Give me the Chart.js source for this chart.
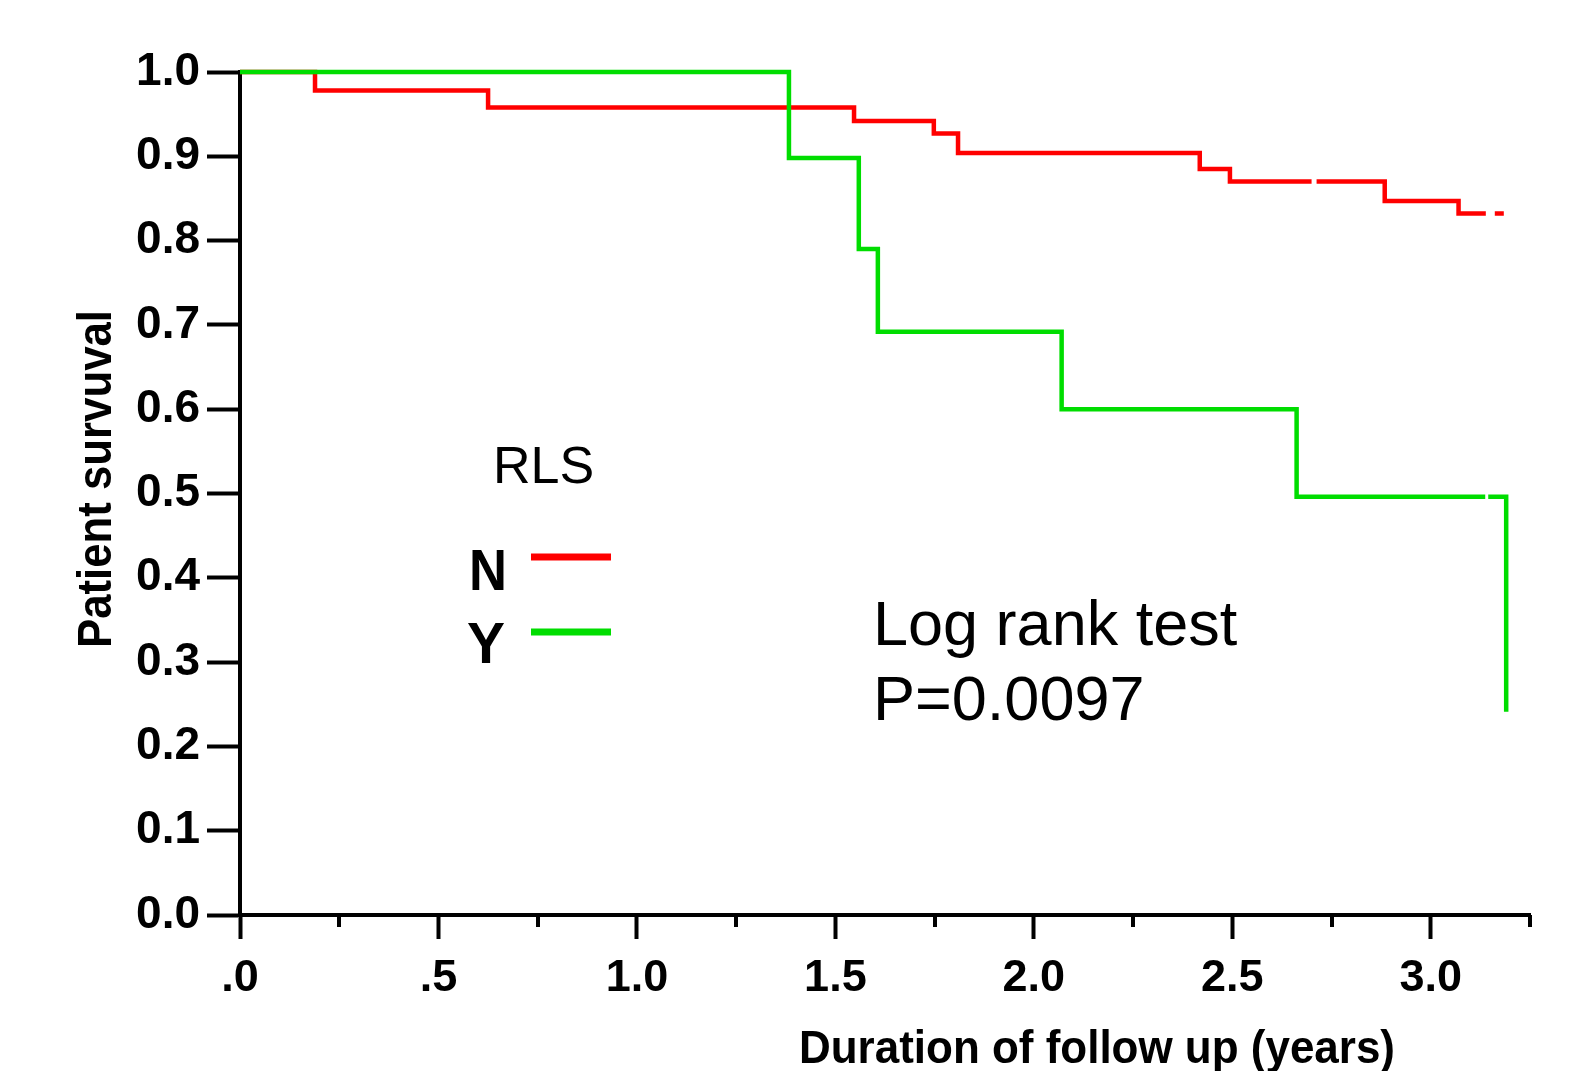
<!DOCTYPE html>
<html><head><meta charset="utf-8">
<script src="https://cdn.jsdelivr.net/npm/chart.js@4.4.1/dist/chart.umd.min.js"></script>
<style>html,body{margin:0;padding:0;background:#fff}#wrap{width:1573px;height:1071px;position:relative}</style>
</head><body><div id="wrap"><canvas id="c"></canvas></div>
<script>
// Kaplan-Meier step data (time in years, survival)
const timesN = [0, 0.189, 0.625, 1.547, 1.748, 1.809, 2.418, 2.494, 2.884, 3.070, 3.184];
const survN  = [1.0, 0.978, 0.958, 0.942, 0.927, 0.904, 0.885, 0.870, 0.847, 0.832, 0.832];
const timesY = [0, 1.383, 1.559, 1.607, 2.070, 2.662, 3.190];
const survY  = [1.0, 0.898, 0.790, 0.692, 0.600, 0.496, 0.241];
const censorN = [2.706, 3.145, 3.155];
const censorY = [3.141];
const seriesNames = ['N', 'Y'];
const xTickValues = [0, 0.5, 1.0, 1.5, 2.0, 2.5, 3.0];
const xTickLabels = ['.0', '.5', '1.0', '1.5', '2.0', '2.5', '3.0'];
const xMinorTicks = [0.25, 0.75, 1.25, 1.75, 2.25, 2.75, 3.25];
const yTickValues = [0, 0.1, 0.2, 0.3, 0.4, 0.5, 0.6, 0.7, 0.8, 0.9, 1.0];
const yTickLabels = ['0.0', '0.1', '0.2', '0.3', '0.4', '0.5', '0.6', '0.7', '0.8', '0.9', '1.0'];
const xTitle = 'Duration of follow up (years)';
const yTitle = 'Patient survuval';
const legendTitle = 'RLS';
const noteLines = ['Log rank test', 'P=0.0097'];

const FONT = "'Liberation Sans', Arial, sans-serif";
const RED = '#ff0000', GREEN = '#00dd00';

function toPts(t, s) { return t.map((v, i) => ({x: v, y: s[i]})); }
function stepValue(t, s, at) { let v = s[0]; for (let i = 0; i < t.length; i++) { if (t[i] <= at) v = s[i]; } return v; }

const extras = {
  id: 'extras',
  afterDatasetsDraw(chart) {
    const ctx = chart.ctx, xs = chart.scales.x, ys = chart.scales.y;
    ctx.save();
    // censor gaps
    ctx.fillStyle = '#fff';
    const doGaps = (cens, t, s, w) => cens.forEach(c => {
      const px = xs.getPixelForValue(c), py = ys.getPixelForValue(stepValue(t, s, c));
      ctx.fillRect(px - w / 2, py - 4, w, 8);
    });
    doGaps(censorN, timesN, survN, 5);
    doGaps(censorY, timesY, survY, 3);
    // minor x ticks
    ctx.strokeStyle = '#000'; ctx.lineWidth = 4;
    const b = chart.chartArea.bottom;
    xMinorTicks.forEach(v => {
      const px = Math.round(xs.getPixelForValue(v));
      ctx.beginPath(); ctx.moveTo(px, b); ctx.lineTo(px, b + 12); ctx.stroke();
    });
    // axis titles
    ctx.fillStyle = '#000';
    ctx.font = 'bold 46px ' + FONT;
    ctx.textAlign = 'center'; ctx.textBaseline = 'alphabetic';
    ctx.fillText(xTitle, 1097, 1063, 596);
    ctx.save();
    ctx.translate(111, 479); ctx.rotate(-Math.PI / 2);
    ctx.font = 'bold 48px ' + FONT;
    ctx.fillText(yTitle, 0, 0, 338);
    ctx.restore();
    // legend
    ctx.textAlign = 'left';
    ctx.font = '52px ' + FONT;
    ctx.fillText(legendTitle, 493, 483);
    ctx.font = 'bold 58px ' + FONT;
    ctx.fillText(seriesNames[0], 469, 590, 38);
    ctx.fillText(seriesNames[1], 467, 663, 38);
    ctx.lineWidth = 7;
    ctx.strokeStyle = RED; ctx.beginPath(); ctx.moveTo(531, 557); ctx.lineTo(611, 557); ctx.stroke();
    ctx.strokeStyle = GREEN; ctx.beginPath(); ctx.moveTo(531, 632); ctx.lineTo(611, 632); ctx.stroke();
    // note
    ctx.font = '63px ' + FONT;
    ctx.fillText(noteLines[0], 873, 645);
    ctx.fillText(noteLines[1], 873, 720);
    ctx.restore();
  }
};

new Chart(document.getElementById('c'), {
  type: 'line',
  data: {
    datasets: [
      { label: seriesNames[1], data: toPts(timesY, survY), borderColor: GREEN, borderWidth: 4.5, stepped: 'before', pointRadius: 0, fill: false, clip: false },
      { label: seriesNames[0], data: toPts(timesN, survN), borderColor: RED, borderWidth: 4.5, stepped: 'before', pointRadius: 0, fill: false, clip: false }
    ]
  },
  options: {
    responsive: true, maintainAspectRatio: false, animation: false, devicePixelRatio: 1,
    layout: { padding: { top: 72, right: 43, left: 0, bottom: 0 } },
    plugins: { legend: { display: false }, tooltip: { enabled: false } },
    scales: {
      x: {
        type: 'linear', min: 0, max: 3.25,
        afterFit(s) { s.height = 156; },
        afterBuildTicks(s) { s.ticks = xTickValues.map(v => ({value: v})); },
        ticks: { autoSkip: false, maxRotation: 0, color: '#000', padding: 13, font: { family: FONT, size: 45, weight: 'bold' },
          callback: (v, i) => xTickLabels[i] },
        grid: { drawOnChartArea: false, drawTicks: true, tickLength: 24, tickWidth: 4, tickColor: '#000' },
        border: { display: true, color: '#000', width: 4 }
      },
      y: {
        type: 'linear', min: 0, max: 1,
        afterFit(s) { s.width = 240; },
        afterBuildTicks(s) { s.ticks = yTickValues.map(v => ({value: v})); },
        ticks: { autoSkip: false, color: '#000', padding: 7, font: { family: FONT, size: 46, weight: 'bold' },
          callback: (v, i) => yTickLabels[i] },
        grid: { drawOnChartArea: false, drawTicks: true, tickLength: 33, tickWidth: 4, tickColor: '#000' },
        border: { display: true, color: '#000', width: 4 }
      }
    }
  },
  plugins: [extras]
});
</script>
</body></html>
